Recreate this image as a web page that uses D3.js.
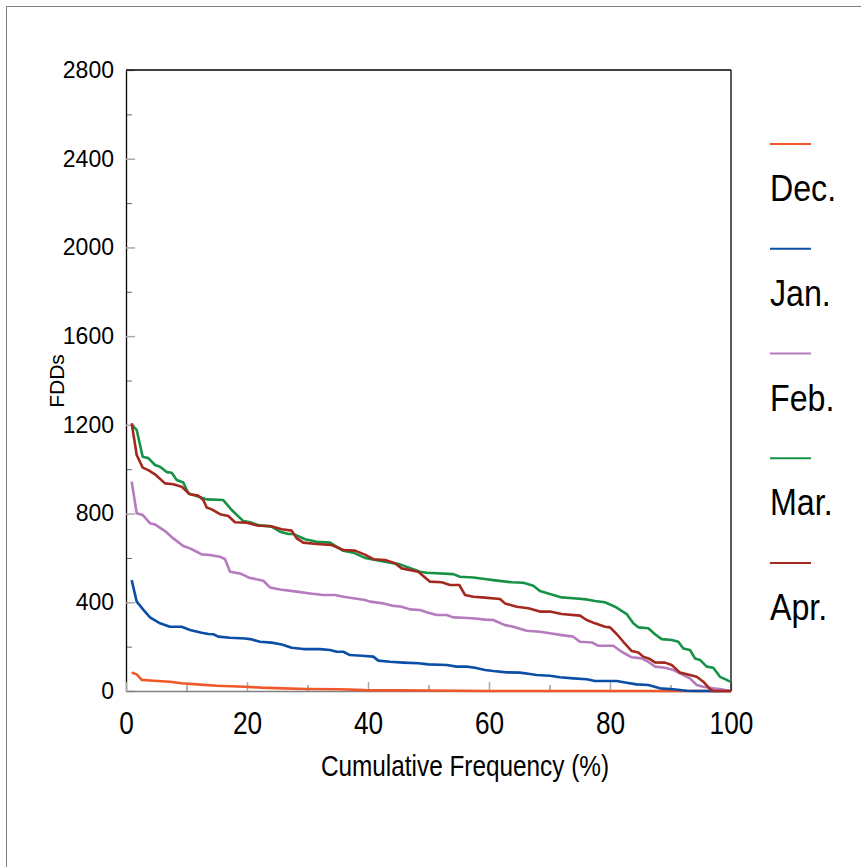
<!DOCTYPE html>
<html><head><meta charset="utf-8">
<script src="https://cdn.jsdelivr.net/npm/d3@7"></script>
<style>
html,body{margin:0;padding:0;background:#fff;}
svg text{font-family:"Liberation Sans",Arial,sans-serif;fill:#000;}
</style></head>
<body>
<svg id="chart" width="861" height="867"></svg>
<script>
// ---- data (x = cumulative frequency %, y = FDDs) ----
const seriesNames = ["Dec.", "Jan.", "Feb.", "Mar.", "Apr."];
const seriesColors = ["#f0582a", "#0b4ea6", "#b67bbf", "#169146", "#a3291f"];

const decData = [[0.94,83],[1.77,75],[2.6,50],[4.55,46],[7.27,42],[9.2,35],[11.68,30],[15.0,24],[19.67,19],[22.4,15],[26.0,12],[29.87,9],[35.4,8],[39.5,4],[45,3],[50,2],[60,0],[100,0]];

const janData = [[0.94,500],[1.77,403],[2.92,365],[3.97,332],[5.62,305],[7.27,290],[9.2,290],[10.58,275],[12.51,263],[13.6,257],[14.43,256],[15.26,245],[17.19,240],[19.67,237],[20.5,234],[22.15,222],[24.08,218],[25.74,210],[27.39,195],[29.31,189],[32.07,189],[33.72,185],[34.83,177],[35.92,177],[37.02,162],[38.96,159],[40.88,155],[41.7,137],[43.64,132],[45.84,128],[48.31,125],[49.97,120],[53.0,117],[54.66,110],[56.31,110],[57.69,105],[59.34,95],[60.71,90],[62.93,84],[65.12,83],[66.78,77],[67.88,72],[70.08,69],[71.74,62],[73.93,57],[76.15,53],[77.52,45],[81.1,45],[82.76,37],[84.41,30],[86.33,27],[88.26,12],[90.46,8],[92.68,1],[94.88,0],[100,0]];

const febData = [[0.94,944],[1.77,801],[2.76,794],[3.97,756],[4.79,751],[6.45,721],[7.82,688],[9.47,654],[10.58,643],[11.68,628],[12.51,616],[13.88,613],[15.54,605],[16.36,595],[17.19,538],[18.84,530],[19.67,520],[20.21,512],[22.69,497],[23.8,467],[25.45,458],[28.21,448],[30.41,440],[32.61,433],[34.55,433],[35.92,425],[37.57,418],[39.5,410],[40.33,403],[42.53,395],[43.92,385],[45.57,380],[46.94,368],[48.6,365],[49.97,353],[51.36,343],[53.0,343],[54.1,332],[55.75,330],[57.69,327],[59.34,322],[60.71,320],[62.64,297],[64.02,290],[66.23,272],[68.43,267],[70.08,260],[72.02,252],[73.93,245],[75.04,222],[76.98,219],[78.07,204],[80.55,204],[81.93,177],[83.59,152],[85.24,147],[86.33,132],[87.44,110],[89.09,105],[90.46,95],[92.12,72],[93.22,57],[94.33,27],[95.42,19],[97.07,12],[98.18,9],[99.83,0]];

const marData = [[0.94,1200],[1.77,1177],[2.76,1056],[3.69,1050],[4.79,1019],[5.62,1011],[6.73,987],[7.55,984],[8.38,951],[9.47,940],[10.3,891],[12.51,871],[13.34,864],[16.08,861],[17.47,816],[19.39,766],[20.5,761],[21.87,748],[24.08,741],[25.45,718],[26.83,708],[27.65,708],[29.59,684],[31.52,673],[33.72,669],[35.92,632],[37.57,624],[39.5,600],[42.81,583],[45.29,571],[48.6,538],[49.7,533],[54.1,527],[55.2,515],[57.4,512],[59.3,505],[60.7,500],[63.75,490],[65.67,488],[67.32,475],[68.43,451],[70.08,437],[72.02,422],[73.93,418],[76.15,413],[77.52,406],[79.17,400],[80.83,380],[81.93,361],[82.76,347],[83.85,305],[84.68,287],[86.33,283],[87.44,256],[88.55,234],[90.2,230],[91.29,222],[92.12,192],[93.22,185],[94.05,147],[94.88,140],[95.98,110],[97.07,105],[98.18,64],[99.29,50],[99.83,42]];

const aprData = [[0.94,1207],[1.77,1064],[2.76,1007],[3.69,996],[4.79,977],[6.45,936],[7.82,932],[9.2,921],[10.58,887],[11.95,881],[12.78,861],[13.34,827],[14.17,819],[15.54,797],[16.91,789],[18.02,761],[19.95,759],[21.87,745],[23.8,744],[25.74,729],[27.39,723],[28.21,688],[29.31,669],[31.52,663],[34.0,658],[35.92,636],[37.85,633],[39.5,615],[40.88,594],[42.81,591],[44.46,576],[45.57,553],[48.31,538],[50.25,493],[52.18,490],[53.55,478],[55.09,478],[56.03,433],[57.4,425],[59.34,421],[61.82,415],[62.64,395],[64.58,380],[66.5,373],[68.43,358],[70.08,358],[72.02,347],[75.04,340],[76.15,320],[77.52,305],[79.17,290],[80.0,287],[81.1,257],[82.2,222],[83.59,180],[84.68,174],[85.5,155],[86.61,144],[87.44,129],[89.09,128],[90.2,117],[91.57,83],[93.22,72],[94.33,64],[95.42,42],[96.53,8],[97.07,0],[100,0]];

const allSeries = [decData, janData, febData, marData, aprData];

const xTickValues = [0, 20, 40, 60, 80, 100];
const xMinorTicks = [10, 30, 50, 70, 90];
const yTickValues = [0, 400, 800, 1200, 1600, 2000, 2400, 2800];
const yMinorTicks = [200, 600, 1000, 1400, 1800, 2200, 2600];
const xTitle = "Cumulative Frequency (%)";
const yTitle = "FDDs";

// ---- drawing ----
const svg = d3.select("#chart");
const L = 126, R = 731, T = 70, B = 691;
const x = d3.scaleLinear().domain([0, 100]).range([L, R]);
const y = d3.scaleLinear().domain([0, 2800]).range([B, T]);

// outer frame
svg.append("line").attr("x1", 6.5).attr("x2", 861).attr("y1", 6.5).attr("y2", 6.5).attr("stroke", "#808080");
svg.append("line").attr("x1", 6.5).attr("x2", 6.5).attr("y1", 6.5).attr("y2", 867).attr("stroke", "#808080");

// minor ticks
const yMinor = svg.append("g").attr("transform", `translate(${L},0)`)
  .call(d3.axisLeft(y).tickValues(yMinorTicks).tickSize(-6).tickFormat(""));
yMinor.select(".domain").remove();
yMinor.selectAll("line").attr("stroke", "#666");
const xMinor = svg.append("g").attr("transform", `translate(0,${B})`)
  .call(d3.axisBottom(x).tickValues(xMinorTicks).tickSize(-6).tickFormat(""));
xMinor.select(".domain").remove();
xMinor.selectAll("line").attr("stroke", "#666");

// major axes
const yAxis = svg.append("g").attr("transform", `translate(${L},0)`)
  .call(d3.axisLeft(y).tickValues(yTickValues).tickSize(-9).tickSizeOuter(0).tickPadding(12).tickFormat(d3.format("d")));
yAxis.select(".domain").attr("stroke", "#000").attr("stroke-width", 1.3);
yAxis.selectAll(".tick line").attr("stroke", "#aaa").attr("stroke-width", 1.5);
yAxis.selectAll("text").style("font-size", "23px").attr("fill", "#000");

const xAxis = svg.append("g").attr("transform", `translate(0,${B})`)
  .call(d3.axisBottom(x).tickValues(xTickValues).tickSize(-9).tickSizeOuter(0).tickPadding(20));
xAxis.select(".domain").attr("stroke", "#808080").attr("stroke-width", 1.5);
xAxis.selectAll(".tick line").attr("stroke", "#aaa").attr("stroke-width", 1.5);
xAxis.selectAll("text").style("font-size", "32px").attr("fill", "#000")
  .attr("transform", "scale(0.82,1)");

// top and right frame
svg.append("line").attr("x1", L).attr("x2", R).attr("y1", T).attr("y2", T).attr("stroke", "#000").attr("stroke-width", 1.3);
svg.append("line").attr("x1", R).attr("x2", R).attr("y1", T).attr("y2", B).attr("stroke", "#000").attr("stroke-width", 1.3);

// series lines
const line = d3.line().x(d => x(d[0])).y(d => y(d[1]));
allSeries.forEach((data, i) => {
  svg.append("path").datum(data).attr("d", line)
    .attr("fill", "none").attr("stroke", seriesColors[i]).attr("stroke-width", 2.6)
    .attr("stroke-linejoin", "round");
});

// titles
svg.append("text").attr("transform", "translate(465,776) scale(0.84,1)").attr("text-anchor", "middle")
  .style("font-size", "29px").text(xTitle);
svg.append("text").attr("transform", "translate(64,381) rotate(-90)").attr("text-anchor", "middle")
  .style("font-size", "21px").text(yTitle);

// legend
const legendY0 = 144, legendStep = 104.75;
seriesNames.forEach((name, i) => {
  const ly = legendY0 + i * legendStep;
  svg.append("line").attr("x1", 770).attr("x2", 811).attr("y1", ly).attr("y2", ly)
    .attr("stroke", seriesColors[i]).attr("stroke-width", 2.2);
  svg.append("text").attr("transform", `translate(770,${ly + 57}) scale(0.87,1)`)
    .style("font-size", "37px").text(name);
});
</script>
</body></html>
